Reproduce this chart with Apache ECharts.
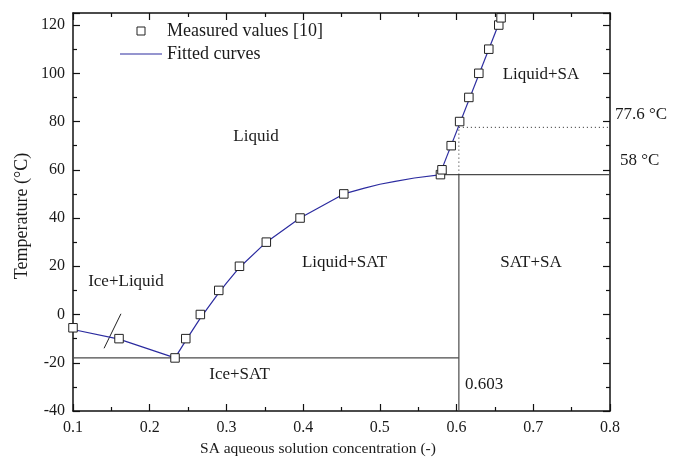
<!DOCTYPE html>
<html>
<head>
<meta charset="utf-8">
<script src="https://cdn.jsdelivr.net/npm/echarts@6/dist/echarts.min.js"></script>
<style>
  html, body { margin: 0; padding: 0; background: #fff; }
  #chart { width: 680px; height: 459px; }
</style>
</head>
<body>
<div id="chart"></div>
<script>
// Measured liquidus points (SA mass fraction, temperature in °C)
const measuredX = [0.1, 0.16, 0.233, 0.247, 0.266, 0.29, 0.317, 0.352, 0.396, 0.453,
                   0.579, 0.581, 0.593, 0.604, 0.616, 0.629, 0.642, 0.655, 0.658];
const measuredT = [-5.5, -10, -18, -10, 0, 10, 20, 30, 40, 50,
                   58, 60, 70, 80, 90, 100, 110, 120, 123];

// Fitted liquidus branches
const iceX = [0.1, 0.16, 0.233];
const iceT = [-6.2, -10.2, -18];
const satX = [0.233, 0.248, 0.266, 0.29, 0.3, 0.317, 0.352, 0.396, 0.453, 0.48, 0.5, 0.52, 0.545, 0.58];
const satT = [-18, -10.3, -1.5, 9, 13, 19.5, 30, 40, 50, 52.4, 54, 55.2, 56.6, 58];
const saX = [0.578, 0.6605];
const saT = [58, 125];

// Invariant lines of the phase diagram
const eutecticT = -18;
const peritecticT = 58;
const peritecticX = 0.603;
const saturationT = 77.6;
const eutecticSpan = [0.1, 0.603];
const peritecticSpan = [0.578, 0.8];

// Small slash across the ice branch
const slashX = [0.1405, 0.1625];
const slashT = [-14, 0.3];

// Axis ranges
const xRange = [0.1, 0.8];
const tRange = [-40, 125];

const zip = (xs, ys) => xs.map((x, i) => [x, ys[i]]);

const FONT = '"Liberation Serif", "Times New Roman", serif';
const TXT = '#1a1a1a';
const BLUE = '#2c2ca0';
const GRID_LINE = '#4a4a4a';

const chart = echarts.init(document.getElementById('chart'), null, { renderer: 'canvas' });

const axisCommon = {
  axisLine: { show: true, onZero: false, lineStyle: { color: '#111', width: 1.5 } },
  axisTick: { show: true, inside: true, length: 7, lineStyle: { color: '#111', width: 1.2 } },
  minorTick: { show: true, splitNumber: 2, length: 4, lineStyle: { color: '#111', width: 1.2 } },
  splitLine: { show: false },
  minorSplitLine: { show: false }
};

chart.setOption({
  animation: false,
  backgroundColor: '#fff',
  textStyle: { fontFamily: FONT, color: TXT },
  grid: { left: 73, right: 70, top: 13, bottom: 48, containLabel: false },
  xAxis: [
    Object.assign({
      type: 'value', position: 'bottom', min: xRange[0], max: xRange[1], interval: 0.1,
      axisLabel: { show: true, fontFamily: FONT, fontSize: 16, color: TXT, margin: 9,
                   formatter: v => (Math.round(v * 10) / 10).toFixed(1) }
    }, axisCommon),
    Object.assign({
      type: 'value', position: 'top', min: xRange[0], max: xRange[1], interval: 0.1,
      axisLabel: { show: false }
    }, axisCommon)
  ],
  yAxis: [
    Object.assign({
      type: 'value', position: 'left', min: tRange[0], max: tRange[1], interval: 20,
      axisLabel: { show: true, fontFamily: FONT, fontSize: 16, color: TXT, margin: 8,
                   showMaxLabel: false }
    }, axisCommon),
    Object.assign({
      type: 'value', position: 'right', min: tRange[0], max: tRange[1], interval: 20,
      axisLabel: { show: false }
    }, axisCommon)
  ],
  legend: {
    left: 120, top: 22, padding: 0, orient: 'vertical', itemWidth: 42, itemHeight: 8, itemGap: 5,
    symbolKeepAspect: true,
    textStyle: { fontFamily: FONT, fontSize: 18, color: TXT },
    data: [
      { name: 'Measured values [10]', icon: 'path://M0 0H8V8H0Z',
        itemStyle: { color: '#fff', borderColor: '#222', borderWidth: 1 } },
      { name: 'Fitted curves', icon: 'path://M0 0H42V1.2H0Z',
        itemStyle: { color: BLUE, borderWidth: 0 } }
    ]
  },
  series: [
    // phase boundaries
    { type: 'line', silent: true, symbol: 'none', z: 1,
      lineStyle: { color: GRID_LINE, width: 1.2 },
      data: [[eutecticSpan[0], eutecticT], [eutecticSpan[1], eutecticT]] },
    { type: 'line', silent: true, symbol: 'none', z: 1,
      lineStyle: { color: GRID_LINE, width: 1.2 },
      data: [[peritecticSpan[0], peritecticT], [peritecticSpan[1], peritecticT]] },
    { type: 'line', silent: true, symbol: 'none', z: 1,
      lineStyle: { color: GRID_LINE, width: 1.2 },
      data: [[peritecticX, tRange[0]], [peritecticX, peritecticT]] },
    { type: 'line', silent: true, symbol: 'none', z: 1,
      lineStyle: { color: '#222', width: 1, type: [1, 3] },
      data: [[peritecticX, saturationT], [xRange[1], saturationT]] },
    { type: 'line', silent: true, symbol: 'none', z: 1,
      lineStyle: { color: '#222', width: 1, type: [1, 3] },
      data: [[peritecticX, peritecticT], [peritecticX, saturationT]] },
    { type: 'line', silent: true, symbol: 'none', z: 1,
      lineStyle: { color: '#222', width: 1 },
      data: zip(slashX, slashT) },
    // fitted liquidus curves
    { name: 'Fitted curves', type: 'line', symbol: 'none', showSymbol: false, z: 2,
      color: BLUE, lineStyle: { color: BLUE, width: 1.2 }, data: zip(iceX, iceT) },
    { name: 'Fitted curves', type: 'line', symbol: 'none', showSymbol: false, z: 2,
      color: BLUE, lineStyle: { color: BLUE, width: 1.2 }, data: zip(satX, satT) },
    { name: 'Fitted curves', type: 'line', symbol: 'none', showSymbol: false, z: 2,
      color: BLUE, lineStyle: { color: BLUE, width: 1.2 }, data: zip(saX, saT) },
    // measured values
    { name: 'Measured values [10]', type: 'scatter', symbol: 'rect', symbolSize: 8.5, z: 3,
      itemStyle: { color: '#fff', borderColor: '#222', borderWidth: 1, opacity: 1 },
      data: zip(measuredX, measuredT) }
  ],
  graphic: [
    { type: 'text', x: 22, y: 216, rotation: Math.PI / 2,
      style: { text: 'Temperature (°C)', font: '18px ' + FONT, fill: TXT, align: 'center', verticalAlign: 'middle' } },
    { type: 'text', x: 318, y: 449,
      style: { text: 'SA aqueous solution concentration (-)', font: '15.5px ' + FONT, fill: TXT, align: 'center', verticalAlign: 'middle' } },
    { type: 'text', x: 256, y: 137,
      style: { text: 'Liquid', font: '17px ' + FONT, fill: TXT, align: 'center', verticalAlign: 'middle' } },
    { type: 'text', x: 541, y: 75,
      style: { text: 'Liquid+SA', font: '17px ' + FONT, fill: TXT, align: 'center', verticalAlign: 'middle' } },
    { type: 'text', x: 344.5, y: 263,
      style: { text: 'Liquid+SAT', font: '17px ' + FONT, fill: TXT, align: 'center', verticalAlign: 'middle' } },
    { type: 'text', x: 126, y: 281.5,
      style: { text: 'Ice+Liquid', font: '17px ' + FONT, fill: TXT, align: 'center', verticalAlign: 'middle' } },
    { type: 'text', x: 531, y: 262.5,
      style: { text: 'SAT+SA', font: '17px ' + FONT, fill: TXT, align: 'center', verticalAlign: 'middle' } },
    { type: 'text', x: 239.5, y: 375,
      style: { text: 'Ice+SAT', font: '17px ' + FONT, fill: TXT, align: 'center', verticalAlign: 'middle' } },
    { type: 'text', x: 465, y: 384.5,
      style: { text: String(peritecticX), font: '17px ' + FONT, fill: TXT, align: 'left', verticalAlign: 'middle' } },
    { type: 'text', x: 615, y: 115,
      style: { text: saturationT + ' °C', font: '17px ' + FONT, fill: TXT, align: 'left', verticalAlign: 'middle' } },
    { type: 'text', x: 620, y: 161,
      style: { text: peritecticT + ' °C', font: '17px ' + FONT, fill: TXT, align: 'left', verticalAlign: 'middle' } }
  ]
});
</script>
</body>
</html>
